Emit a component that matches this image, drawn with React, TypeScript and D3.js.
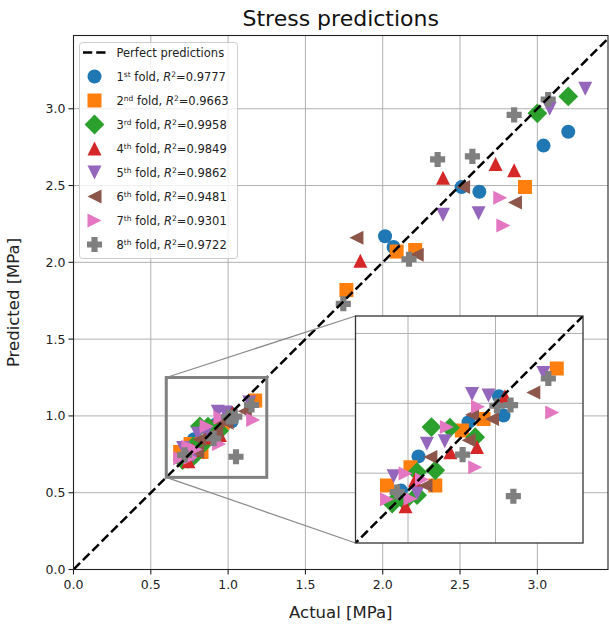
import React from 'react';
import * as d3 from 'd3';

const fold1 = [[3.2, 2.85], [3.04, 2.76], [2.51, 2.49], [2.625, 2.46], [2.015, 2.17], [2.07, 2.1], [1.01, 1.02], [1.023, 0.965], [0.923, 0.946], [0.78, 0.848], [0.73, 0.75]];
const fold2 = [[2.92, 2.49], [2.09, 2.07], [2.21, 2.08], [1.765, 1.82], [1.175, 1.1], [0.966, 0.955], [0.904, 0.922], [0.757, 0.817], [0.69, 0.765], [0.828, 0.765]];
const fold3 = [[3.2, 3.08], [3.0, 2.97], [0.817, 0.932], [0.87, 0.93], [0.942, 0.903], [0.828, 0.808], [0.776, 0.803], [0.705, 0.713], [0.776, 0.737], [0.74, 0.72]];
const fold4 = [[2.73, 2.64], [2.85, 2.6], [2.39, 2.55], [1.855, 2.01], [1.027, 1.02], [0.947, 0.875], [0.871, 0.86], [0.743, 0.705], [0.77, 0.78]];
const fold5 = [[3.31, 3.13], [3.08, 3.0], [2.39, 2.31], [2.62, 2.32], [1.137, 1.087], [0.933, 1.027], [0.98, 1.022], [0.804, 0.884], [0.855, 0.891], [0.709, 0.791], [0.776, 0.742]];
const fold6 = [[2.52, 2.49], [2.855, 2.39], [1.83, 2.16], [2.22, 2.05], [1.108, 1.031], [0.99, 0.955], [0.933, 0.967], [0.923, 0.894], [0.814, 0.846], [0.8, 0.765]];
const fold7 = [[2.76, 2.42], [2.78, 2.24], [1.162, 0.974], [0.95, 0.99], [0.861, 0.932], [0.942, 0.817], [0.743, 0.799], [0.79, 0.782], [0.69, 0.725], [0.757, 0.727]];
const fold8 = [[3.07, 3.06], [2.85, 2.96], [2.355, 2.67], [2.58, 2.69], [2.17, 2.02], [1.745, 1.73], [1.151, 1.071], [1.004, 0.993], [1.043, 0.995], [0.906, 0.853], [1.051, 0.734], [0.719, 0.746]];

const folds = [fold1, fold2, fold3, fold4, fold5, fold6, fold7, fold8];
const ordinals = ['st', 'nd', 'rd', 'th', 'th', 'th', 'th', 'th'];
const r2 = ['0.9777', '0.9663', '0.9958', '0.9849', '0.9862', '0.9481', '0.9301', '0.9722'];
const colors = ['#1f77b4', '#ff7f0e', '#2ca02c', '#d62728', '#9467bd', '#8c564b', '#e377c2', '#7f7f7f'];
const markers = ['circle', 'square', 'diamond', 'up', 'down', 'left', 'right', 'plus'];

const mainTicks = [0, 0.5, 1.0, 1.5, 2.0, 2.5, 3.0];
const insetXTicks = [0.75, 1.0];
const insetYTicks = [0.8, 1.0, 1.2];
const zoomBox = [0.6, 1.25];

const font = 'DejaVu Sans, sans-serif';

function markerPath(kind: string, s: number) {
  const h = s / 2;
  switch (kind) {
    case 'circle':
      return `M${h},0A${h},${h} 0 1,1 ${-h},0A${h},${h} 0 1,1 ${h},0Z`;
    case 'square':
      return `M${-h},${-h}H${h}V${h}H${-h}Z`;
    case 'diamond': {
      const d = h * Math.SQRT2;
      return `M0,${-d}L${d},0L0,${d}L${-d},0Z`;
    }
    case 'up':
      return `M0,${-h}L${h},${h}L${-h},${h}Z`;
    case 'down':
      return `M0,${h}L${h},${-h}L${-h},${-h}Z`;
    case 'left':
      return `M${-h},0L${h},${-h}L${h},${h}Z`;
    case 'right':
      return `M${h},0L${-h},${-h}L${-h},${h}Z`;
    default: {
      // chunky filled plus
      const e = h * 1.08;
      const a = s * 0.22;
      const pts = [[-a, -e], [a, -e], [a, -a], [e, -a], [e, a], [a, a], [a, e], [-a, e], [-a, a], [-e, a], [-e, -a], [-a, -a]];
      return 'M' + pts.map(([px, py]) => `${px},${py}`).join('L') + 'Z';
    }
  }
}

const S = 14;

function App() {
  const width = 609;
  const height = 630;

  const x = d3.scaleLinear().domain([0, 3.457]).range([73.5, 608]);
  const y = d3.scaleLinear().domain([0, 3.477]).range([569.5, 35.5]);

  const ix = d3.scaleLinear().domain(zoomBox).range([355.5, 583]);
  const iy = d3.scaleLinear().domain(zoomBox).range([543, 316]);

  const [x0, x1] = x.range();
  const [y0, y1] = y.range();
  const [ix0, ix1] = ix.range();
  const [iy0, iy1] = iy.range();

  const line = (sx, sy, lim) =>
    d3.line()([[sx(0), sy(0)], [sx(lim), sy(lim)]]);

  const scatter = (sx, sy) =>
    folds.map((pts, i) =>
      pts.map(([a, p], j) => (
        <path
          key={`${i}-${j}`}
          d={markerPath(markers[i], S)}
          transform={`translate(${sx(a)},${sy(p)})`}
          fill={colors[i]}
        />
      ))
    );

  const legendRows = d3.range(9).map((i) => 52.5 + i * 24);

  return (
    <svg
      width={width}
      height={height}
      style={{ position: 'absolute', left: 0, top: 0, background: '#fff' }}
      fontFamily={font}
    >
      <defs>
        <clipPath id="mainClip">
          <rect x={x0} y={y1} width={x1 - x0} height={y0 - y1} />
        </clipPath>
        <clipPath id="insetClip">
          <rect x={ix0} y={iy1} width={ix1 - ix0} height={iy0 - iy1} />
        </clipPath>
      </defs>

      <text x={(x0 + x1) / 2} y={26} textAnchor="middle" fontSize={22} fill="#111">
        Stress predictions
      </text>

      {/* main grid */}
      <g stroke="#b0b0b0" strokeWidth={1}>
        {mainTicks.map((t) => (
          <line key={`gx${t}`} x1={x(t)} x2={x(t)} y1={y0} y2={y1} />
        ))}
        {mainTicks.map((t) => (
          <line key={`gy${t}`} x1={x0} x2={x1} y1={y(t)} y2={y(t)} />
        ))}
      </g>

      <g clipPath="url(#mainClip)">
        {scatter(x, y)}
        <path d={line(x, y, 3.6)} stroke="#000" strokeWidth={2.5} strokeDasharray="9.25,4" fill="none" />
      </g>

      {/* spines & ticks */}
      <rect x={x0} y={y1} width={x1 - x0} height={y0 - y1} fill="none" stroke="#222" strokeWidth={1.1} />
      <g fontSize={12.5} fill="#222">
        {mainTicks.map((t) => (
          <g key={`tx${t}`} transform={`translate(${x(t)},${y0})`}>
            <line y2={5} stroke="#222" strokeWidth={1.1} />
            <text y={19} textAnchor="middle">{t.toFixed(1)}</text>
          </g>
        ))}
        {mainTicks.map((t) => (
          <g key={`ty${t}`} transform={`translate(${x0},${y(t)})`}>
            <line x2={-5} stroke="#222" strokeWidth={1.1} />
            <text x={-8} dy="0.35em" textAnchor="end">{t.toFixed(1)}</text>
          </g>
        ))}
      </g>
      <text x={(x0 + x1) / 2} y={618} textAnchor="middle" fontSize={16.5} fill="#222">
        Actual [MPa]
      </text>
      <text
        transform={`translate(19,${(y0 + y1) / 2}) rotate(-90)`}
        textAnchor="middle"
        fontSize={16.5}
        fill="#222"
      >
        Predicted [MPa]
      </text>

      {/* zoom indicator */}
      <rect
        x={x(zoomBox[0])}
        y={y(zoomBox[1])}
        width={x(zoomBox[1]) - x(zoomBox[0])}
        height={y(zoomBox[0]) - y(zoomBox[1])}
        fill="none"
        stroke="#808080"
        strokeWidth={3}
      />
      <line x1={x(zoomBox[0])} y1={y(zoomBox[1])} x2={ix0} y2={iy1} stroke="#8a8a8a" strokeWidth={1.2} />
      <line x1={x(zoomBox[0])} y1={y(zoomBox[0])} x2={ix0} y2={iy0} stroke="#8a8a8a" strokeWidth={1.2} />

      {/* inset */}
      <rect x={ix0} y={iy1} width={ix1 - ix0} height={iy0 - iy1} fill="#fff" />
      <g stroke="#b0b0b0" strokeWidth={1}>
        {insetXTicks.map((t) => (
          <line key={`igx${t}`} x1={ix(t)} x2={ix(t)} y1={iy0} y2={iy1} />
        ))}
        {insetYTicks.map((t) => (
          <line key={`igy${t}`} x1={ix0} x2={ix1} y1={iy(t)} y2={iy(t)} />
        ))}
      </g>
      <g clipPath="url(#insetClip)">
        {scatter(ix, iy)}
        <path d={line(ix, iy, 1.3)} stroke="#000" strokeWidth={2.5} strokeDasharray="9.25,4" fill="none" />
      </g>
      <rect x={ix0} y={iy1} width={ix1 - ix0} height={iy0 - iy1} fill="none" stroke="#333" strokeWidth={1.3} />

      {/* legend */}
      <rect x={79.5} y={42.5} width={158} height={216} rx={3} fill="#fff" fillOpacity={0.8} stroke="#cccccc" strokeWidth={1} />
      <line x1={83} x2={106} y1={legendRows[0]} y2={legendRows[0]} stroke="#000" strokeWidth={2.5} strokeDasharray="9.25,4" />
      <text x={116.5} y={legendRows[0]} dy="0.35em" fontSize={11.5} fill="#222">
        Perfect predictions
      </text>
      {folds.map((_, i) => (
        <g key={`lg${i}`}>
          <path d={markerPath(markers[i], S)} transform={`translate(94.5,${legendRows[i + 1]})`} fill={colors[i]} />
          <text x={116.5} y={legendRows[i + 1]} dy="0.35em" fontSize={11.5} fill="#222">
            <tspan>{i + 1}</tspan>
            <tspan fontSize={7.5} dy={-4}>{ordinals[i]}</tspan>
            <tspan dy={4}> fold, </tspan>
            <tspan fontStyle="italic">R</tspan>
            <tspan fontSize={7.5} dy={-4}>2</tspan>
            <tspan dy={4}>={r2[i]}</tspan>
          </text>
        </g>
      ))}
    </svg>
  );
}

export default App;
